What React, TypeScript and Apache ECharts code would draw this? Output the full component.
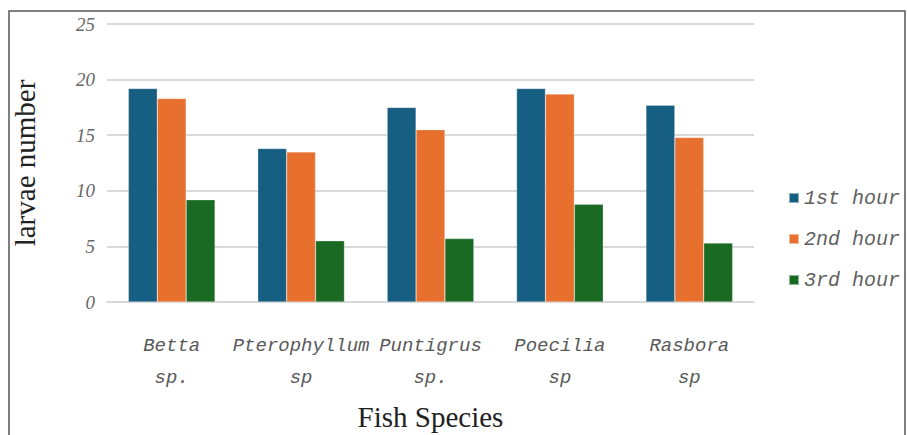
import React, { useEffect, useRef } from "react";
import * as echarts from "echarts";

const categories = ["Betta\nsp.", "Pterophyllum\nsp", "Puntigrus\nsp.", "Poecilia\nsp", "Rasbora\nsp"];
const seriesNames = ["1st hour", "2nd hour", "3rd hour"];
const hour1 = [19.2, 13.8, 17.5, 19.2, 17.7];
const hour2 = [18.3, 13.5, 15.5, 18.7, 14.8];
const hour3 = [9.2, 5.5, 5.7, 8.8, 5.3];
const colors = ["#165e82", "#e8702f", "#1b6a24"];
const yTicks = [0, 5, 10, 15, 20, 25];

export default function App() {
  const ref = useRef<HTMLDivElement>(null);
  useEffect(() => {
    document.body.style.margin = "0";
    const chart = echarts.init(ref.current!, null, { renderer: "svg" });
    const values = [hour1, hour2, hour3];
    chart.setOption({
      animation: false,
      backgroundColor: "#ffffff",
      color: colors,
      graphic: [
        {
          type: "rect",
          shape: { x: 9, y: 11, width: 896, height: 440 },
          style: { fill: "none", stroke: "#555555", lineWidth: 1.5 },
          silent: true,
        },
      ],
      legend: {
        orient: "vertical",
        left: 783,
        top: 183,
        itemWidth: 10,
        itemHeight: 10,
        itemGap: 21,
        icon: "rect",
        data: seriesNames,
        textStyle: {
          fontFamily: "Liberation Mono",
          fontStyle: "italic",
          fontSize: 20,
          color: "#5f5f5f",
        },
      },
      grid: { left: 107, right: 153, top: 24, bottom: 133, outerBoundsMode: "none", containLabel: false },
      xAxis: {
        type: "category",
        data: categories,
        name: "Fish Species",
        nameLocation: "middle",
        nameGap: 100,
        nameTextStyle: { fontFamily: "Liberation Serif", fontSize: 29, color: "#222" },
        axisLine: { lineStyle: { color: "#d9d9d9", width: 2 } },
        axisTick: { show: false },
        axisLabel: {
          interval: 0,
          margin: 28,
          lineHeight: 32,
          fontFamily: "Liberation Mono",
          fontStyle: "italic",
          fontSize: 19,
          color: "#595959",
        },
      },
      yAxis: {
        type: "value",
        min: 0,
        max: 25,
        interval: 5,
        name: "larvae number",
        nameLocation: "middle",
        nameGap: 68,
        nameTextStyle: { fontFamily: "Liberation Serif", fontSize: 29, color: "#222" },
        axisLine: { show: false },
        axisTick: { show: false },
        splitLine: { lineStyle: { color: "#d9d9d9", width: 2 } },
        axisLabel: {
          margin: 12,
          fontFamily: "Liberation Serif",
          fontStyle: "italic",
          fontSize: 19,
          color: "#666666",
          formatter: (v: number) => (yTicks.includes(v) ? String(v) : ""),
        },
      },
      series: seriesNames.map((n, i) => ({
        name: n,
        type: "bar",
        data: values[i],
        barGap: "0%",
        barCategoryGap: "33%",
        itemStyle: { color: colors[i], borderColor: "rgba(255,255,255,0.5)", borderWidth: 0.5 },
      })),
    });
    return () => chart.dispose();
  }, []);
  return <div ref={ref} style={{ width: 907, height: 435 }} />;
}
